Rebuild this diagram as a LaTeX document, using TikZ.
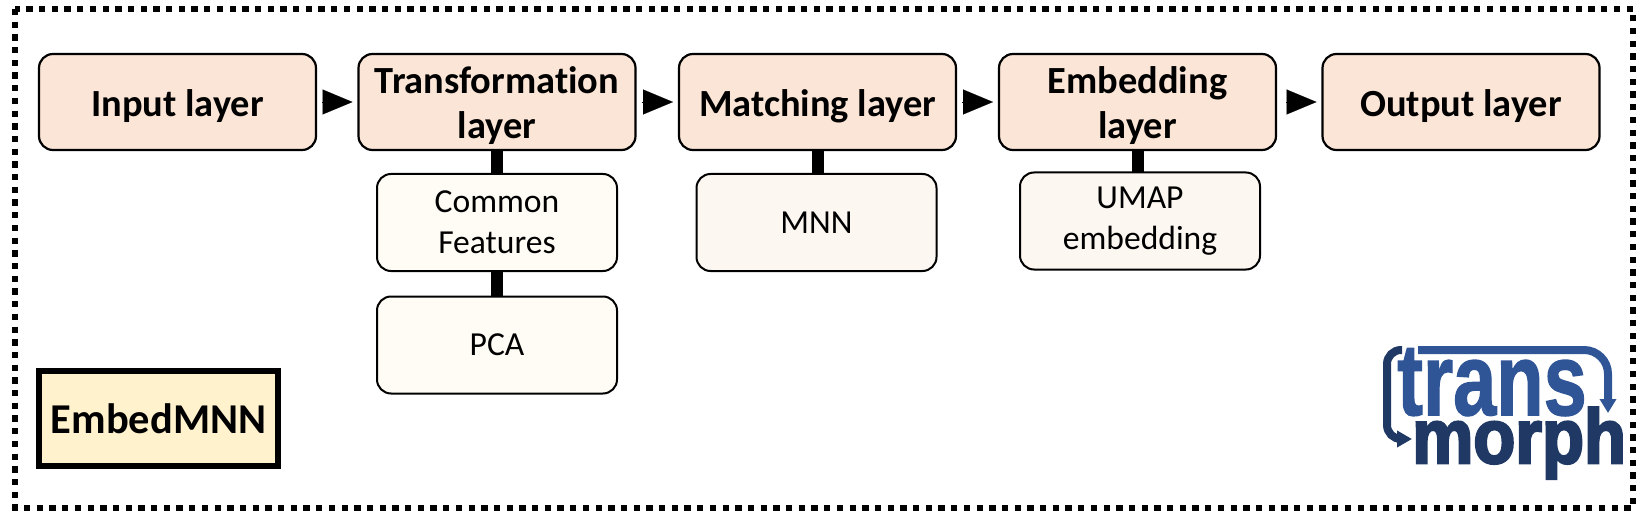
\documentclass[tikz,border=0pt]{standalone}
\usepackage{fontspec}
\usepackage{graphicx}
\setmainfont[Ligatures=NoCommon]{Carlito}
\newfontfamily\logofont[FakeBold=1.5]{Liberation Sans Bold}
\newfontfamily\logofontb[FakeBold=3.5]{Liberation Sans Bold}
\usetikzlibrary{arrows.meta}
\definecolor{layerfill}{HTML}{FBE5D6}
\definecolor{subfill}{HTML}{FFFCF5}
\definecolor{subfillb}{HTML}{FDF7F2}
\definecolor{tagfill}{HTML}{FFF2CC}
\definecolor{logoa}{HTML}{2F5597}
\definecolor{logob}{HTML}{1F3864}
\newcommand\pushdown{\rule{0pt}{35pt}}
\tikzset{
  layerbox/.style={draw=black,line width=2.2pt,rounded corners=14pt,fill=layerfill,minimum width=277pt,minimum height=96pt,outer sep=0pt,align=center,inner sep=0pt,font=\fontsize{38.4}{45}\selectfont\bfseries},
  subbox/.style={draw=black,line width=2pt,rounded corners=14pt,fill=subfill,minimum width=240pt,minimum height=97pt,outer sep=0pt,align=center,inner sep=0pt,font=\fontsize{33.6}{41}\selectfont},
  nextarrow/.style={line width=0.1pt,-{Triangle[length=30pt,width=25pt]},shorten <=6pt,shorten >=6pt},
  link/.style={line width=12pt,black},
  logoarrow/.style={line width=8pt,rounded corners=24pt},
}
\begin{document}
\begin{tikzpicture}[x=1pt,y=-1pt]
\useasboundingbox (0,0) rectangle (1645,521);
\draw[line width=6pt,dash pattern=on 6.3pt off 6.4pt] (15,9) rectangle (1633,508);
\node[layerbox] (input) at (177.5,102) {\pushdown Input layer};
\node[layerbox] (trans) at (497,102) {\pushdown Transformation\\layer};
\node[layerbox] (match) at (817.5,102) {\pushdown Matching layer};
\node[layerbox] (embed) at (1137.5,102) {\pushdown Embedding\\layer};
\node[layerbox] (output) at (1461,102) {\pushdown Output layer};
\node[subbox] (common) at (497,222.5) {Common\\Features};
\node[subbox] (pca) at (497,345) {PCA};
\node[subbox,fill=subfillb] (mnn) at (816.5,222.5) {MNN};
\node[subbox,fill=subfillb] (umap) at (1140,221) {UMAP\\embedding};
\foreach \a/\b in {input/trans,trans/match,match/embed}
  \draw[nextarrow] (\a.east) -- (\b.west);
\draw[nextarrow,shorten <=10pt] (embed.east) -- (output.west);
\draw[link] (trans.south) -- (common.north);
\draw[link] (common.south) -- (pca.north);
\draw[link] (match.south) -- (mnn.north -| match.south);
\draw[link] (embed.south) -- (umap.north -| embed.south);
\node[draw=black,line width=6pt,fill=tagfill,minimum width=239pt,minimum height=95pt,inner sep=0pt,outer sep=0pt,font=\fontsize{42.5}{50}\selectfont\bfseries] (tag) at (158.5,418.5) {EmbedMNN};
% logo
\node[logoa,anchor=base west,inner sep=0pt] (logotrans) at (1397,415) {\scalebox{0.76}[1]{\fontsize{102}{102}\logofont trans}};
\node[logob,anchor=base west,inner sep=0pt] (logomorph) at (1412,463) {\scalebox{0.79}[0.88]{\fontsize{87}{87}\logofontb morph}};
\coordinate (la) at (1418,350);
\coordinate (lb) at (1402,350);
\draw[logoa,logoarrow,-{Triangle[length=14pt,width=16pt]}] (la) -- (1608,350) -- (1608,413);
\draw[logob,logoarrow,rounded corners=14pt,-{Triangle[length=15pt,width=16pt]}] (lb) -- (1387,350) -- (1387,439) -- (1412,439);
\end{tikzpicture}
\end{document}
